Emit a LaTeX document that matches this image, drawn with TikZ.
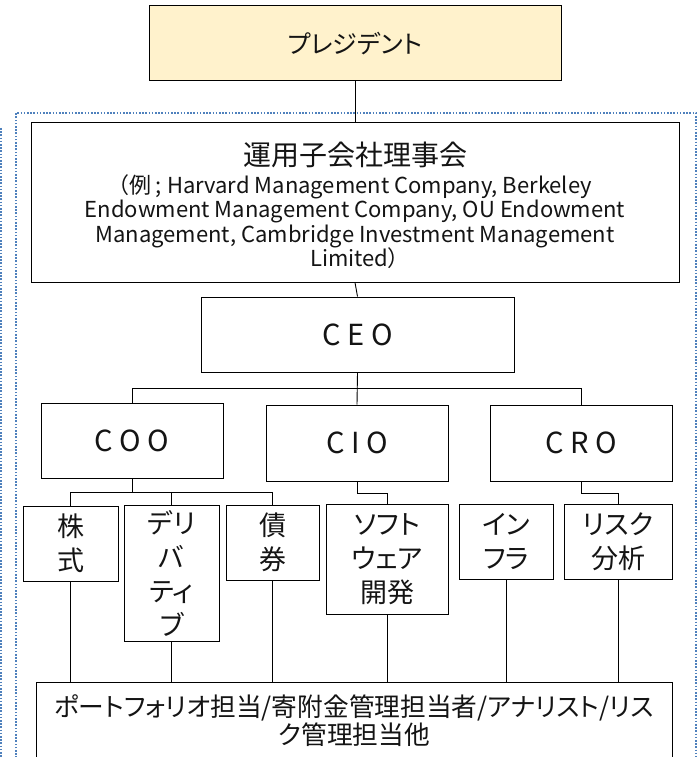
\documentclass[tikz,border=0pt]{standalone}
\usepackage{fontspec}
\setmainfont{Noto Sans CJK JP}[RawFeature=+palt]
\definecolor{presfill}{RGB}{255,242,204}
\definecolor{framecol}{RGB}{79,129,189}
\definecolor{inkcol}{RGB}{20,20,20}
\begin{document}
\begin{tikzpicture}[x=1pt,y=-1pt,
  box/.style={draw=black, line width=1pt, fill=white, inner sep=0pt, text=inkcol},
  conn/.style={draw=black, line width=0.9pt},
  frame/.style={draw=framecol, line width=1.6pt, dash pattern=on 1.6pt off 1.6pt},
  big/.style={font=\fontsize{27}{34}\selectfont, align=center},
  chief/.style={font=\fontsize{29}{34}\selectfont, align=center},
  small/.style={font=\fontsize{22}{24.5}\selectfont, align=center, inner sep=0pt, text=inkcol},
  lbl/.style={inner sep=0pt, text=inkcol}]
\useasboundingbox (0,0) rectangle (697,757);
\clip (0,0) rectangle (697,757);
\fill[white] (0,0) rectangle (697,757);

% dotted frames
\draw[frame] (16,790) -- (16,113) -- (696,113) -- (696,790);
\draw[frame] (1.2,128) -- (1.2,790);

% boxes
\node[box, fill=presfill, minimum width=412pt, minimum height=75pt, font=\fontsize{25}{30}\selectfont] (pres) at (355,43.5) {プレジデント};
\node[box, minimum width=648pt, minimum height=159pt] (board) at (355,202.5) {};
\node[lbl, font=\fontsize{28}{30}\selectfont] (boardtitle) at (355,155) {運用子会社理事会};
\node[small] (boardsub) at (355,221.5) {（例 ; Harvard Management Company, Berkeley\\Endowment Management Company, OU Endowment\\Management, Cambridge Investment Management\\Limited）};

\node[box, minimum width=313pt, minimum height=75pt, chief] (ceo) at (357.5,334.5) {C E O};
\node[box, minimum width=182pt, minimum height=75pt, chief] (coo) at (132,440.5) {C O O};
\node[box, minimum width=182pt, minimum height=76pt, chief] (cio) at (357,443) {C I O};
\node[box, minimum width=182pt, minimum height=76pt, chief] (cro) at (581,443) {C R O};

\node[box, minimum width=95pt, minimum height=75pt, big] (kabu) at (70.5,543.5) {株\\式};
\node[box, minimum width=95pt, minimum height=136pt, big] (deri) at (171.5,573) {デリ\\バ\\ティ\\ブ};
\node[box, minimum width=93pt, minimum height=75pt, big] (saiken) at (272.5,542.5) {債\\券};
\node[box, minimum width=122pt, minimum height=110pt, big] (soft) at (387,559) {ソフト\\ウェア\\開発};
\node[box, minimum width=94pt, minimum height=75pt, big] (infra) at (506,541.5) {イン\\フラ};
\node[box, minimum width=108pt, minimum height=75pt, big] (risk) at (618,541.5) {リスク\\分析};

\node[box, minimum width=636pt, minimum height=120pt] (staff) at (354,742) {};
\node[lbl, font=\fontsize{25.7}{28}\selectfont, align=center] (stafftext) at (354,721) {ポートフォリオ担当/寄附金管理担当者/アナリスト/リス\\ク管理担当他};

% bus coordinates
\coordinate (bus1) at (0,388);
\coordinate (bus2) at (0,492);
\coordinate (bus3) at (0,493);

% connectors
\draw[conn] (pres.south) -- (board.north);
\draw[conn] (board.south) -- (ceo.north);
\draw[conn] (ceo.south) -- (cio.north);
\draw[conn] (coo.north) -- (coo.north |- bus1) -| (cro.north);

\draw[conn] (coo.south) -- (coo.south |- bus2);
\draw[conn] (kabu.north) -- (kabu.north |- bus2) -| (saiken.north);
\draw[conn] (deri.north) -- (deri.north |- bus2);
\draw[conn] (cio.south) -- (cio.south |- bus3) -| (soft.north);
\draw[conn] (cro.south) -- (cro.south |- bus3) -| (risk.north);

\foreach \b in {kabu,deri,saiken,soft,infra,risk}
  \draw[conn] (\b.south) -- (\b.south |- staff.north);
\end{tikzpicture}
\end{document}
